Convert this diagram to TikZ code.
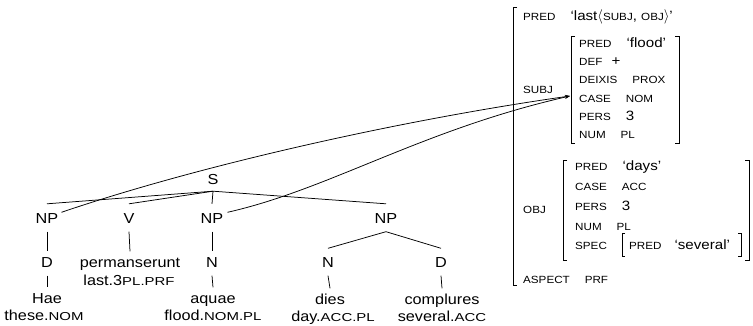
\documentclass[tikz,border=0pt]{standalone}
\usepackage{fontspec}
\setmainfont{Liberation Sans}[FakeStretch=1.12]
\newfontfamily\glossfont{Liberation Sans}[FakeStretch=1.3]
\usetikzlibrary{arrows.meta}

% small capitals for glosses and attribute names
\newcommand{\glc}[1]{{\glossfont\fontsize{11.5}{12}\selectfont #1}}
\newcommand{\atr}[1]{{\fontsize{10.4}{12}\selectfont #1}}
% one attribute--value pair of an f-structure
\newcommand{\avp}[2]{\atr{#1}\hspace{15pt}#2}

\tikzset{
  cat/.style={font=\fontsize{14.5}{16}\selectfont, inner sep=0pt,
    text height=10.5pt, text depth=3.5pt, anchor=base},
  word/.style={font=\fontsize{14.5}{16}\selectfont, inner sep=0pt, anchor=base},
  fsrow/.style={font=\fontsize{13.5}{15}\selectfont, inner sep=0pt, anchor=base west},
  branch/.style={line width=0.75pt},
  fsbracket/.style={line width=0.85pt},
  link/.style={line width=0.75pt, -{Stealth[length=5pt,width=3.6pt]}},
}

\begin{document}
\begin{tikzpicture}[x=1pt,y=-1pt]
\useasboundingbox (0,0) rectangle (753,326);

% ---------------- c-structure ----------------
\node[cat] (s)   at (213,185) {S};
\node[cat] (np1) at (47,223)  {NP};
\node[cat] (v)   at (129,223) {V};
\node[cat] (np2) at (212,223) {NP};
\node[cat] (np3) at (386,223) {NP};

\node[cat] (d1)   at (47,267)  {D};
\node[cat] (perm) at (130,267) {permanserunt};
\node[word] (permgl) at (129,285) {last.3\glc{PL.PRF}};
\node[cat] (n2)   at (212,267) {N};
\node[cat] (n3)   at (328,267) {N};
\node[cat] (d3)   at (441,267) {D};

\node[cat] (hae)   at (47,303)  {Hae};
\node[word] (haegl) at (44,320) {these.\glc{NOM}};
\node[cat] (aquae) at (213,303) {aquae};
\node[word] (aquaegl) at (213,320) {flood.\glc{NOM.PL}};
\node[cat] (dies)  at (330,304) {dies};
\node[word] (diesgl) at (333,321) {day.\glc{ACC.PL}};
\node[cat] (compl) at (442,304) {complures};
\node[word] (complgl) at (442,321) {several.\glc{ACC}};

\foreach \t in {np1,v,np2,np3}
  \draw[branch] ([yshift=-2.5pt]s.south) -- ([yshift=8.5pt]\t.north);
\foreach \p/\c in {np1/d1, v/perm, np2/n2, d1/hae, n2/aquae, n3/dies, d3/compl}
  \draw[branch] ([yshift=-5pt]\p.south) -- ([yshift=5pt]\c.north);
\foreach \c in {n3,d3}
  \draw[branch] ([yshift=-5pt]np3.south) -- ([yshift=8pt]\c.north);

% ---------------- f-structure ----------------
% outer structure
\draw[fsbracket] (517,7) -- (513,7) -- (513,285) -- (517,285);
\node[fsrow] (predo) at (523,21) {\avp{PRED}{`last$\langle$\atr{SUBJ}, \atr{OBJ}$\rangle$'}};
\node[fsrow] (subjl) at (523,94) {\atr{SUBJ}};
\node[fsrow] (objl)  at (523,214) {\atr{OBJ}};
\node[fsrow] (asp)   at (523,283) {\avp{ASPECT}{\atr{PRF}}};

% subject
\draw[fsbracket] (575,36) -- (571,36) -- (571,143) -- (575,143);
\draw[fsbracket] (675,36) -- (679,36) -- (679,143) -- (675,143);
\node[fsrow] (s1) at (579,48)  {\avp{PRED}{`flood'}};
\node[fsrow] (s2) at (579,66)  {\atr{DEF}\hspace{9pt}+};
\node[fsrow] (s3) at (579,84)  {\avp{DEIXIS}{\atr{PROX}}};
\node[fsrow] (s4) at (579,103) {\avp{CASE}{\atr{NOM}}};
\node[fsrow] (s5) at (579,121) {\avp{PERS}{3}};
\node[fsrow] (s6) at (579,139) {\avp{NUM}{\atr{PL}}};
\coordinate (subjtip) at (570,96);

% object
\draw[fsbracket] (567,160) -- (563,160) -- (563,260) -- (567,260);
\draw[fsbracket] (745,160) -- (749,160) -- (749,260) -- (745,260);
\node[fsrow] (o1) at (575,171) {\avp{PRED}{`days'}};
\node[fsrow] (o2) at (575,190) {\avp{CASE}{\atr{ACC}}};
\node[fsrow] (o3) at (575,211) {\avp{PERS}{3}};
\node[fsrow] (o4) at (575,230) {\avp{NUM}{\atr{PL}}};
\node[fsrow] (o5) at (575,249) {\atr{SPEC}};
\draw[fsbracket] (625,233) -- (622,233) -- (622,256) -- (625,256);
\draw[fsbracket] (738,233) -- (741,233) -- (741,256) -- (738,256);
\node[fsrow] (spec) at (629,250) {\atr{PRED}\hspace{13pt}`several'};

% ---------------- correspondence arrows ----------------
\draw[link] ([xshift=3pt]np1.north east) .. controls +(138,-47) and +(-169,24) .. (subjtip);
\draw[link] ([xshift=4pt]np2.north east) .. controls +(102,-23) and +(-149,34) .. (subjtip);
\end{tikzpicture}
\end{document}
